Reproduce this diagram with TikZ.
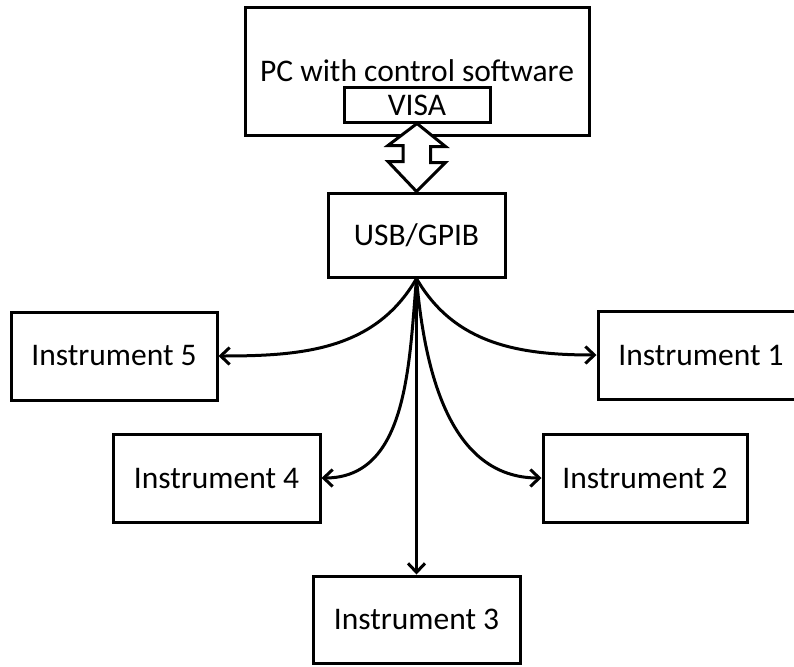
\documentclass[tikz,border=0pt]{standalone}
\usepackage{fontspec}
\setmainfont{Carlito}
\usetikzlibrary{arrows.meta}
\begin{document}
\begin{tikzpicture}[x=1pt,y=-1pt,
  box/.style={draw=black,line width=3pt,fill=white,inner sep=0pt,font=\fontsize{31.5}{36}\selectfont},
  conn/.style={line width=3pt,-{Straight Barb[length=9pt,width=17pt,line width=3pt]}}]
\clip (0,0) rectangle (794,666);
\useasboundingbox (0,0) rectangle (794,666);
\node[box,minimum width=344pt,minimum height=127pt] (pc) at (417,71.5) {};
\node[font=\fontsize{31.5}{36}\selectfont,inner sep=0pt] (pctext) at (417,71) {PC with control software};
\node[box,minimum width=146pt,minimum height=34pt] (visa) at (417,105) {VISA};
\node[box,minimum width=177pt,minimum height=84pt] (usb) at (416.5,235) {USB/GPIB};
\node[box,minimum width=206pt,minimum height=88pt] (i5) at (114,356) {Instrument 5};
\node[box,minimum width=207pt,minimum height=88pt] (i4) at (216.5,478) {Instrument 4};
\node[box,minimum width=206pt,minimum height=88pt] (i1) at (701,355) {Instrument 1};
\node[box,minimum width=204pt,minimum height=88pt] (i2) at (645,478) {Instrument 2};
\node[box,minimum width=207pt,minimum height=87pt] (i3) at (416.5,619.5) {Instrument 3};
% double arrow between VISA and USB/GPIB
\draw[line width=3pt,fill=white,line join=miter]
  (visa.south) -- ++(-29,22) -- ++(15,0) -- ++(0,16) -- ++(-15,0)
  -- (usb.north) -- ++(29,-29) -- ++(-15,0) -- ++(0,-16) -- ++(15,0) -- cycle;
% connectors
\draw[conn] (usb.south) to[out=-120,in=0] (i5.east);
\draw[conn] (usb.south) to[out=-95,in=0] (i4.east);
\draw[conn] (usb.south) -- (i3.north);
\draw[conn] (usb.south) to[out=-85,in=180] (i2.west);
\draw[conn] (usb.south) to[out=-60,in=180] (i1.west);
\end{tikzpicture}
\end{document}
